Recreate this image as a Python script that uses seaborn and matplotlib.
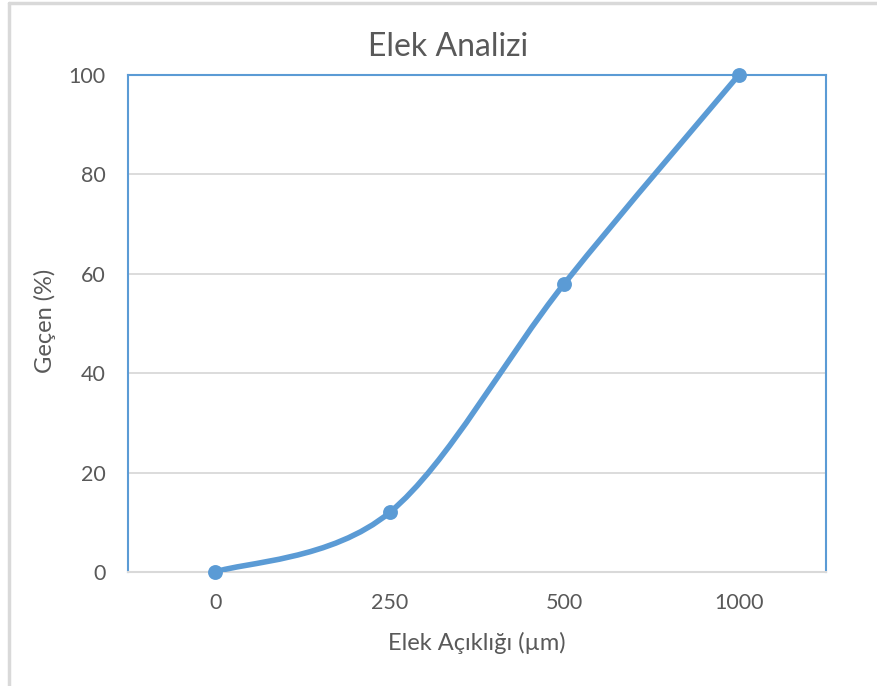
import numpy as np
import pandas as pd
import matplotlib
matplotlib.use("Agg")
import matplotlib.pyplot as plt
from matplotlib.path import Path
from matplotlib.patches import PathPatch
from matplotlib.lines import Line2D
import seaborn as sns

# Data
sieve_labels = ["0", "250", "500", "1000"]
passing = [0, 12, 58, 100]
y_ticks = [0, 20, 40, 60, 80, 100]

title = "Elek Analizi"
xlabel = "Elek Açıklığı (µm)"
ylabel = "Geçen (%)"

blue = "#5B9BD5"
grid_gray = "#D9D9D9"
text_gray = "#595959"

sns.set_theme(style="white")
plt.rcParams['font.family'] = ['Lato', 'DejaVu Sans']

df = pd.DataFrame({"elek": sieve_labels, "gecen": passing})

fig = plt.figure(figsize=(8.78, 6.86), dpi=100)
ax = fig.add_axes([128/878, 1-572/686, (826-128)/878, (572-75)/686])

# smoothed line (Excel style, Catmull-Rom bezier through data points)
xs = np.arange(len(passing), dtype=float)
ys = np.array(passing, dtype=float)
pts = np.column_stack([xs, ys])
ext = np.vstack([pts[0], pts, pts[-1]])
verts = [tuple(pts[0])]
codes = [Path.MOVETO]
for i in range(len(pts) - 1):
    p0, p1, p2, p3 = ext[i], ext[i+1], ext[i+2], ext[i+3]
    c1 = p1 + (p2 - p0) / 6.0
    c2 = p2 - (p3 - p1) / 6.0
    verts += [tuple(c1), tuple(c2), tuple(p2)]
    codes += [Path.CURVE4] * 3
ax.add_patch(PathPatch(Path(verts, codes), facecolor="none", edgecolor=blue,
                       lw=4.0, capstyle="round", joinstyle="round", zorder=3))

sns.scatterplot(data=df, x="elek", y="gecen", ax=ax, color=blue, s=115,
                edgecolor=blue, linewidth=0, zorder=4, clip_on=False)

ax.set_xlim(-0.5, len(sieve_labels) - 0.5)
ax.set_ylim(0, 100)
ax.set_yticks(y_ticks)
ax.set_yticklabels([str(v) for v in y_ticks])
ax.yaxis.grid(True, color=grid_gray, lw=1.3)
ax.xaxis.grid(False)
ax.set_axisbelow(True)
ax.tick_params(axis="both", length=0, labelsize=15.5, labelcolor=text_gray)
ax.tick_params(axis="y", pad=16)
ax.tick_params(axis="x", pad=15)

for side in ["left", "top", "right"]:
    ax.spines[side].set_color(blue)
    ax.spines[side].set_linewidth(1.5)
ax.spines["bottom"].set_color(grid_gray)
ax.spines["bottom"].set_linewidth(1.5)

ax.set_xlabel(xlabel, fontsize=17, color=text_gray, va="center")
ax.set_ylabel(ylabel, fontsize=17, color=text_gray, va="center")
ax.xaxis.set_label_coords(0.5, (572-643)/497)
ax.yaxis.set_label_coords((45-128)/698, (572-321)/497)

fig.text(448/878, 1-47/686, title, fontsize=23, color=text_gray,
         ha="center", va="center")

# outer chart frame (partly cropped)
fig.add_artist(Line2D([9/878, 9/878], [0, 1-3/686], color="#D9D9D9", lw=2.5,
                      transform=fig.transFigure))
fig.add_artist(Line2D([9/878, 1], [1-3/686, 1-3/686], color="#D9D9D9", lw=2.5,
                      transform=fig.transFigure))

fig.savefig("out.png", dpi=100)
